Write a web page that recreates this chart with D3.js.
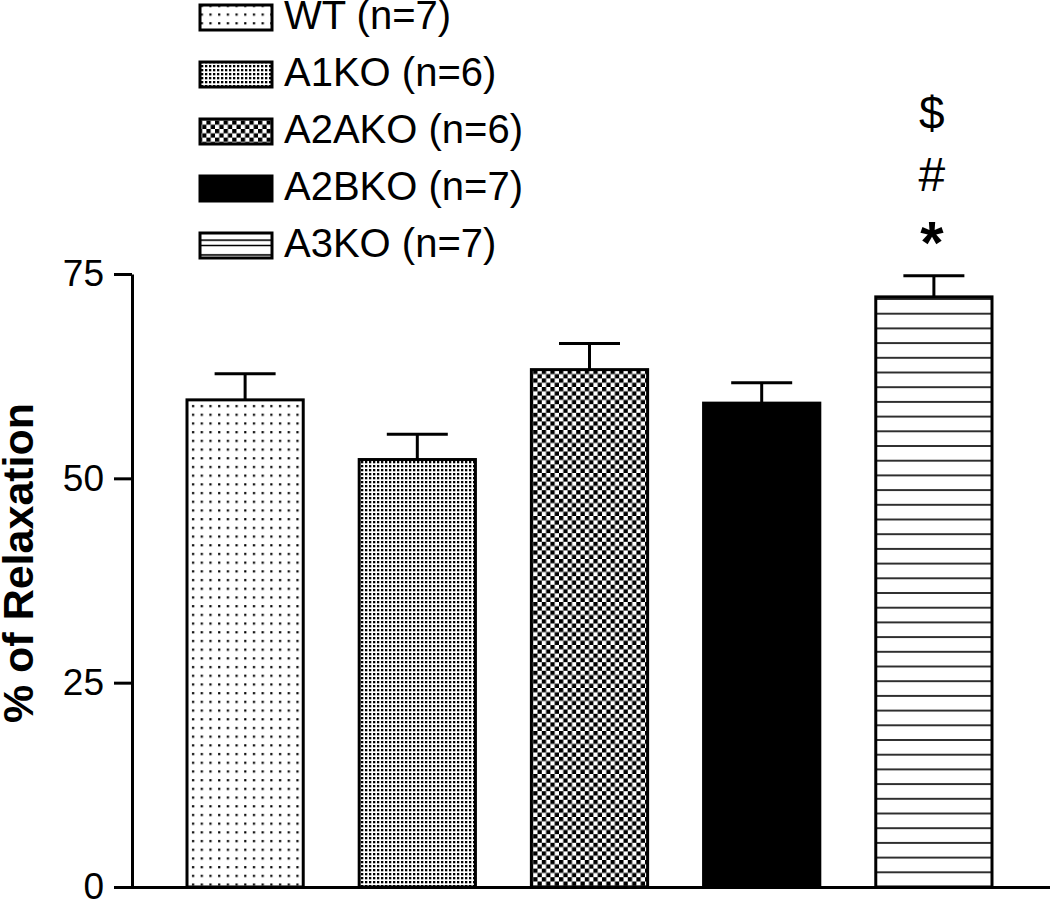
<!DOCTYPE html>
<html><head><meta charset="utf-8">
<script src="https://cdn.jsdelivr.net/npm/d3@7"></script>
<style>body{margin:0;background:#fff}svg{display:block}text{font-family:"Liberation Sans",Arial,sans-serif}</style>
</head><body><svg id="c" width="1050" height="900"></svg>
<script>
const categories = ["WT", "A1KO", "A2AKO", "A2BKO", "A3KO"];
const nValues = [7, 6, 6, 7, 7];
const means = [59.6, 52.3, 63.3, 59.2, 72.2];
const sems = [3.2, 3.1, 3.2, 2.5, 2.6];
const yTicks = [0, 25, 50, 75];
const annotations = [[], [], [], [], ["*", "#", "$"]];
const patternIds = ["pWT", "pA1", "pA2A", "solid", "pA3"];

const svg = d3.select("#c");
const defs = svg.append("defs");

// patterns
let p = defs.append("pattern").attr("id","pWT").attr("patternUnits","userSpaceOnUse").attr("width",8.7).attr("height",8.7).attr("x",189).attr("y",402);
p.append("rect").attr("width",8.7).attr("height",8.7).attr("fill","#fff");
p.append("rect").attr("x",3).attr("y",3).attr("width",2.2).attr("height",2.2).attr("fill","#000");

p = defs.append("pattern").attr("id","pA1").attr("patternUnits","userSpaceOnUse").attr("width",4).attr("height",4);
p.append("rect").attr("width",4).attr("height",4).attr("fill","#fff");
p.append("rect").attr("x",1).attr("y",1).attr("width",2.3).attr("height",2.3).attr("fill","#000");

p = defs.append("pattern").attr("id","pA2A").attr("patternUnits","userSpaceOnUse").attr("width",8.6).attr("height",8.6);
p.append("rect").attr("width",8.6).attr("height",8.6).attr("fill","#fff");
p.append("rect").attr("x",0).attr("y",0).attr("width",4.3).attr("height",4.3).attr("fill","#000");
p.append("rect").attr("x",4.3).attr("y",4.3).attr("width",4.3).attr("height",4.3).attr("fill","#000");

p = defs.append("pattern").attr("id","pA3").attr("patternUnits","userSpaceOnUse").attr("width",20).attr("height",14.7).attr("y",887);
p.append("rect").attr("width",20).attr("height",14.7).attr("fill","#fff");
p.append("line").attr("x1",0).attr("x2",20).attr("y1",0).attr("y2",0).attr("stroke","#000").attr("stroke-width",1.6);
p.append("line").attr("x1",0).attr("x2",20).attr("y1",14.7).attr("y2",14.7).attr("stroke","#000").attr("stroke-width",1.6);

const fillFor = i => patternIds[i] === "solid" ? "#000" : `url(#${patternIds[i]})`;

const y = d3.scaleLinear().domain([0, 75]).range([887, 274]);
const x = d3.scaleBand().domain(categories).range([187, 992]).paddingInner(0.325).paddingOuter(0);

// bars
const g = svg.append("g");
categories.forEach((c, i) => {
  const bx = x(c), bw = x.bandwidth(), cx = bx + bw / 2;
  g.append("line").attr("x1",cx).attr("x2",cx).attr("y1",y(means[i])).attr("y2",y(means[i]+sems[i])).attr("stroke","#000").attr("stroke-width",3);
  g.append("line").attr("x1",cx-30.5).attr("x2",cx+30.5).attr("y1",y(means[i]+sems[i])).attr("y2",y(means[i]+sems[i])).attr("stroke","#000").attr("stroke-width",3);
  g.append("rect").attr("x",bx).attr("y",y(means[i])).attr("width",bw).attr("height",y(0)-y(means[i]))
    .attr("fill",fillFor(i)).attr("stroke","#000").attr("stroke-width",3);
  const ann = annotations[i];
  const baselines = [263, 191, 129];
  const sizes = [60, 48, 46];
  ann.forEach((a, k) => {
    g.append("text").attr("x",cx-2).attr("y",baselines[k]).attr("text-anchor","middle")
      .attr("font-size",sizes[k]).attr("font-weight", a === "*" ? "bold" : "normal").text(a);
  });
});

// axes
const yAxis = svg.append("g").attr("transform","translate(132,0)")
  .call(d3.axisLeft(y).tickValues(yTicks).tickSize(18).tickPadding(10).tickSizeOuter(0));
yAxis.select(".domain").attr("stroke-width",3);
yAxis.selectAll(".tick line").attr("stroke-width",3);
yAxis.selectAll(".tick text").attr("font-size",37).attr("font-family","Liberation Sans, Arial, sans-serif");

const xAxis = svg.append("g").attr("transform","translate(0,887)")
  .call(d3.axisBottom(x.copy().range([114, 1050]).paddingInner(0)).tickSize(0).tickFormat(""));
xAxis.select(".domain").attr("stroke-width",3);

// y title
svg.append("text").attr("transform","translate(33,563) rotate(-90)").attr("text-anchor","middle")
  .attr("font-size",43).attr("font-weight","bold").text("% of Relaxation");

// legend
const lg = svg.append("g");
const legBase = [29, 86, 143, 200, 257];
categories.forEach((c, i) => {
  lg.append("rect").attr("x",200).attr("y",legBase[i]-24).attr("width",72).attr("height",25)
    .attr("fill",fillFor(i)).attr("stroke","#000").attr("stroke-width",3);
  if (patternIds[i] === "pA3") {
    lg.append("line").attr("x1",200).attr("x2",272).attr("y1",legBase[i]-11.5).attr("y2",legBase[i]-11.5).attr("stroke","#000").attr("stroke-width",1.6);
  }
  lg.append("text").attr("x",284).attr("y",legBase[i]).attr("font-size",40).text(`${c} (n=${nValues[i]})`);
});
</script></body></html>
